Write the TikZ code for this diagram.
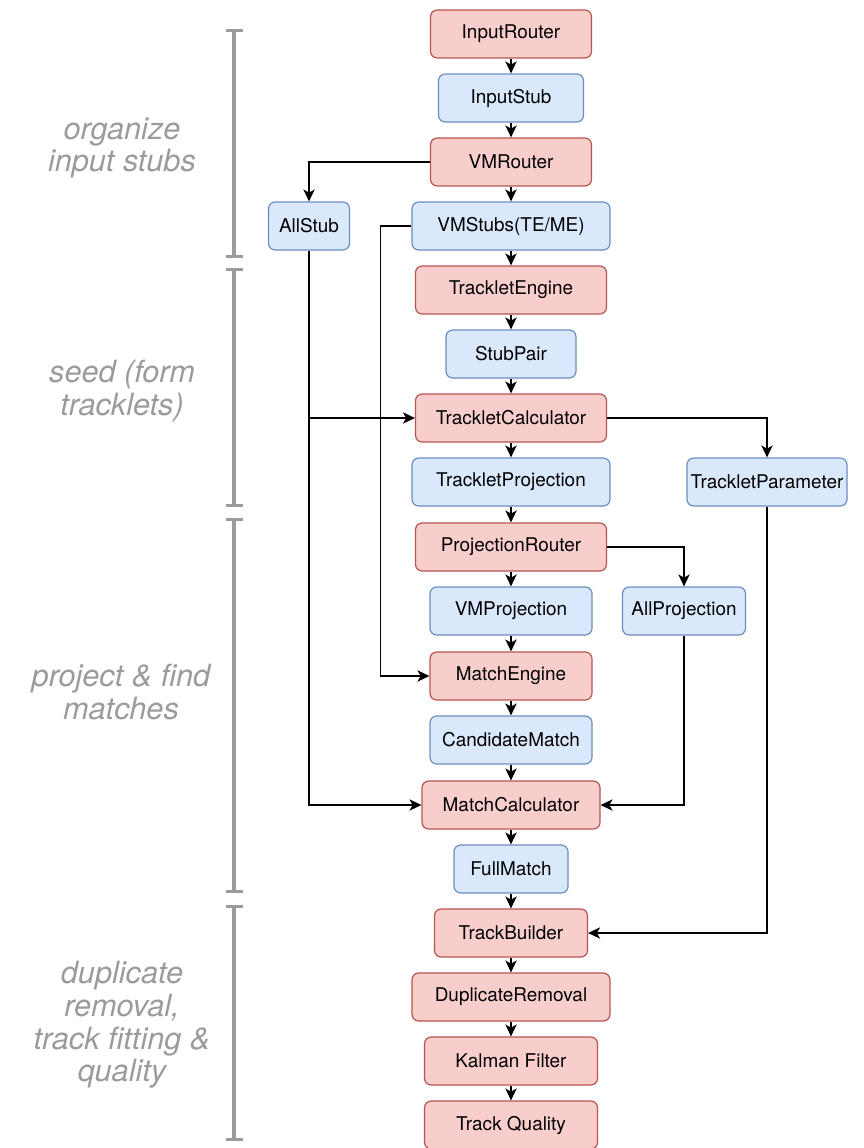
\documentclass[tikz,border=0pt]{standalone}
\usepackage{fontspec}
\setmainfont{TeX Gyre Heros}
\usetikzlibrary{arrows.meta}

\definecolor{procfill}{HTML}{F8CECC}
\definecolor{procline}{HTML}{B85450}
\definecolor{memfill}{HTML}{DAE8FC}
\definecolor{memline}{HTML}{6C8EBF}
\definecolor{phasegray}{HTML}{9B9B9B}

\tikzset{
  box/.style={rounded corners=5pt, line width=0.9pt, minimum height=36pt,
    inner sep=0pt, font=\fontsize{14.2}{16}\selectfont},
  proc/.style={box, draw=procline, fill=procfill},
  mem/.style={box, draw=memline, fill=memfill},
  flow/.style={-{Stealth[length=9pt, width=8.5pt, inset=2.5pt]}, line width=1pt},
  phase/.style={phasegray, line width=2.4pt, {Bar[width=12.75pt]}-{Bar[width=12.75pt]}},
  phaselabel/.style={phasegray, align=center,
    font=\fontsize{23}{24.5}\selectfont\itshape},
}

\begin{document}
\begin{tikzpicture}[x=0.75pt, y=-0.75pt]
  \useasboundingbox (0, 0) rectangle (863, 1148) ;
  \def\colx{511}

  % phases on the left
  \draw[phase] (234, 29) -- (234, 258) ;
  \draw[phase] (234, 268) -- (234, 507) ;
  \draw[phase] (234, 518) -- (234, 893) ;
  \draw[phase] (234, 905) -- (234, 1141) ;
  \node[phaselabel] (organize) at (122, 148) {organize\\input stubs} ;
  \node[phaselabel] (seed) at (122, 391) {seed (form\\tracklets)} ;
  \node[phaselabel] (project) at (121, 692) {project \& find\\matches} ;
  \node[phaselabel] (cleanup) at (122, 1025) {duplicate\\removal,\\track fitting \&\\quality} ;

  % main column
  \node[proc, minimum width=120.75pt] (ir) at (\colx, 34) {InputRouter} ;
  \node[mem, minimum width=108.75pt] (is) at (\colx, 98) {InputStub} ;
  \node[proc, minimum width=120.75pt] (vmr) at (\colx, 162) {VMRouter} ;
  \node[mem, minimum width=148.5pt] (vms) at (\colx, 226) {VMStubs(TE/ME)} ;
  \node[proc, minimum width=143.25pt] (te) at (\colx, 290) {TrackletEngine} ;
  \node[mem, minimum width=97.5pt] (sp) at (\colx, 354) {StubPair} ;
  \node[proc, minimum width=143.25pt] (tcalc) at (\colx, 418) {TrackletCalculator} ;
  \node[mem, minimum width=148.5pt] (tproj) at (\colx, 482) {TrackletProjection} ;
  \node[proc, minimum width=143.25pt] (pr) at (\colx, 547) {ProjectionRouter} ;
  \node[mem, minimum width=121.5pt] (vmp) at (\colx, 611) {VMProjection} ;
  \node[proc, minimum width=121.5pt] (me) at (\colx, 676) {MatchEngine} ;
  \node[mem, minimum width=121.5pt] (cm) at (\colx, 740) {CandidateMatch} ;
  \node[proc, minimum width=133.5pt] (mcalc) at (\colx, 805) {MatchCalculator} ;
  \node[mem, minimum width=85.5pt] (fm) at (\colx, 869) {FullMatch} ;
  \node[proc, minimum width=114.75pt] (tb) at (\colx, 933) {TrackBuilder} ;
  \node[proc, minimum width=148.5pt] (dr) at (\colx, 997) {DuplicateRemoval} ;
  \node[proc, minimum width=129.75pt] (kf) at (\colx, 1061) {Kalman Filter} ;
  \node[proc, minimum width=129.75pt] (tq) at (\colx, 1125) {Track Quality} ;

  % side memories
  \node[mem, minimum width=60.75pt] (allstub) at (309, 226) {AllStub} ;
  \node[mem, minimum width=120pt] (tpar) at (767, 482) {TrackletParameter} ;
  \node[mem, minimum width=92.25pt] (allproj) at (684, 611) {AllProjection} ;

  \foreach \a/\b in {ir/is, is/vmr, vmr/vms, vms/te, te/sp, sp/tcalc, tcalc/tproj,
      tproj/pr, pr/vmp, vmp/me, me/cm, cm/mcalc, mcalc/fm, fm/tb, tb/dr, dr/kf, kf/tq}
    \draw[flow] (\a) -- (\b) ;

  \draw[flow] (vmr.west) -| (allstub.north) ;
  \draw[flow] (allstub.south) |- (mcalc.west) ;
  \draw[flow] (allstub.south |- tcalc.west) -- (tcalc.west) ;
  \draw[flow] (vms.west) -- ++(-31, 0) |- (me.west) ;
  \draw[flow] (tcalc.east) -| (tpar.north) ;
  \draw[flow] (tpar.south) |- (tb.east) ;
  \draw[flow] (pr.east) -| (allproj.north) ;
  \draw[flow] (allproj.south) |- (mcalc.east) ;
\end{tikzpicture}
\end{document}
